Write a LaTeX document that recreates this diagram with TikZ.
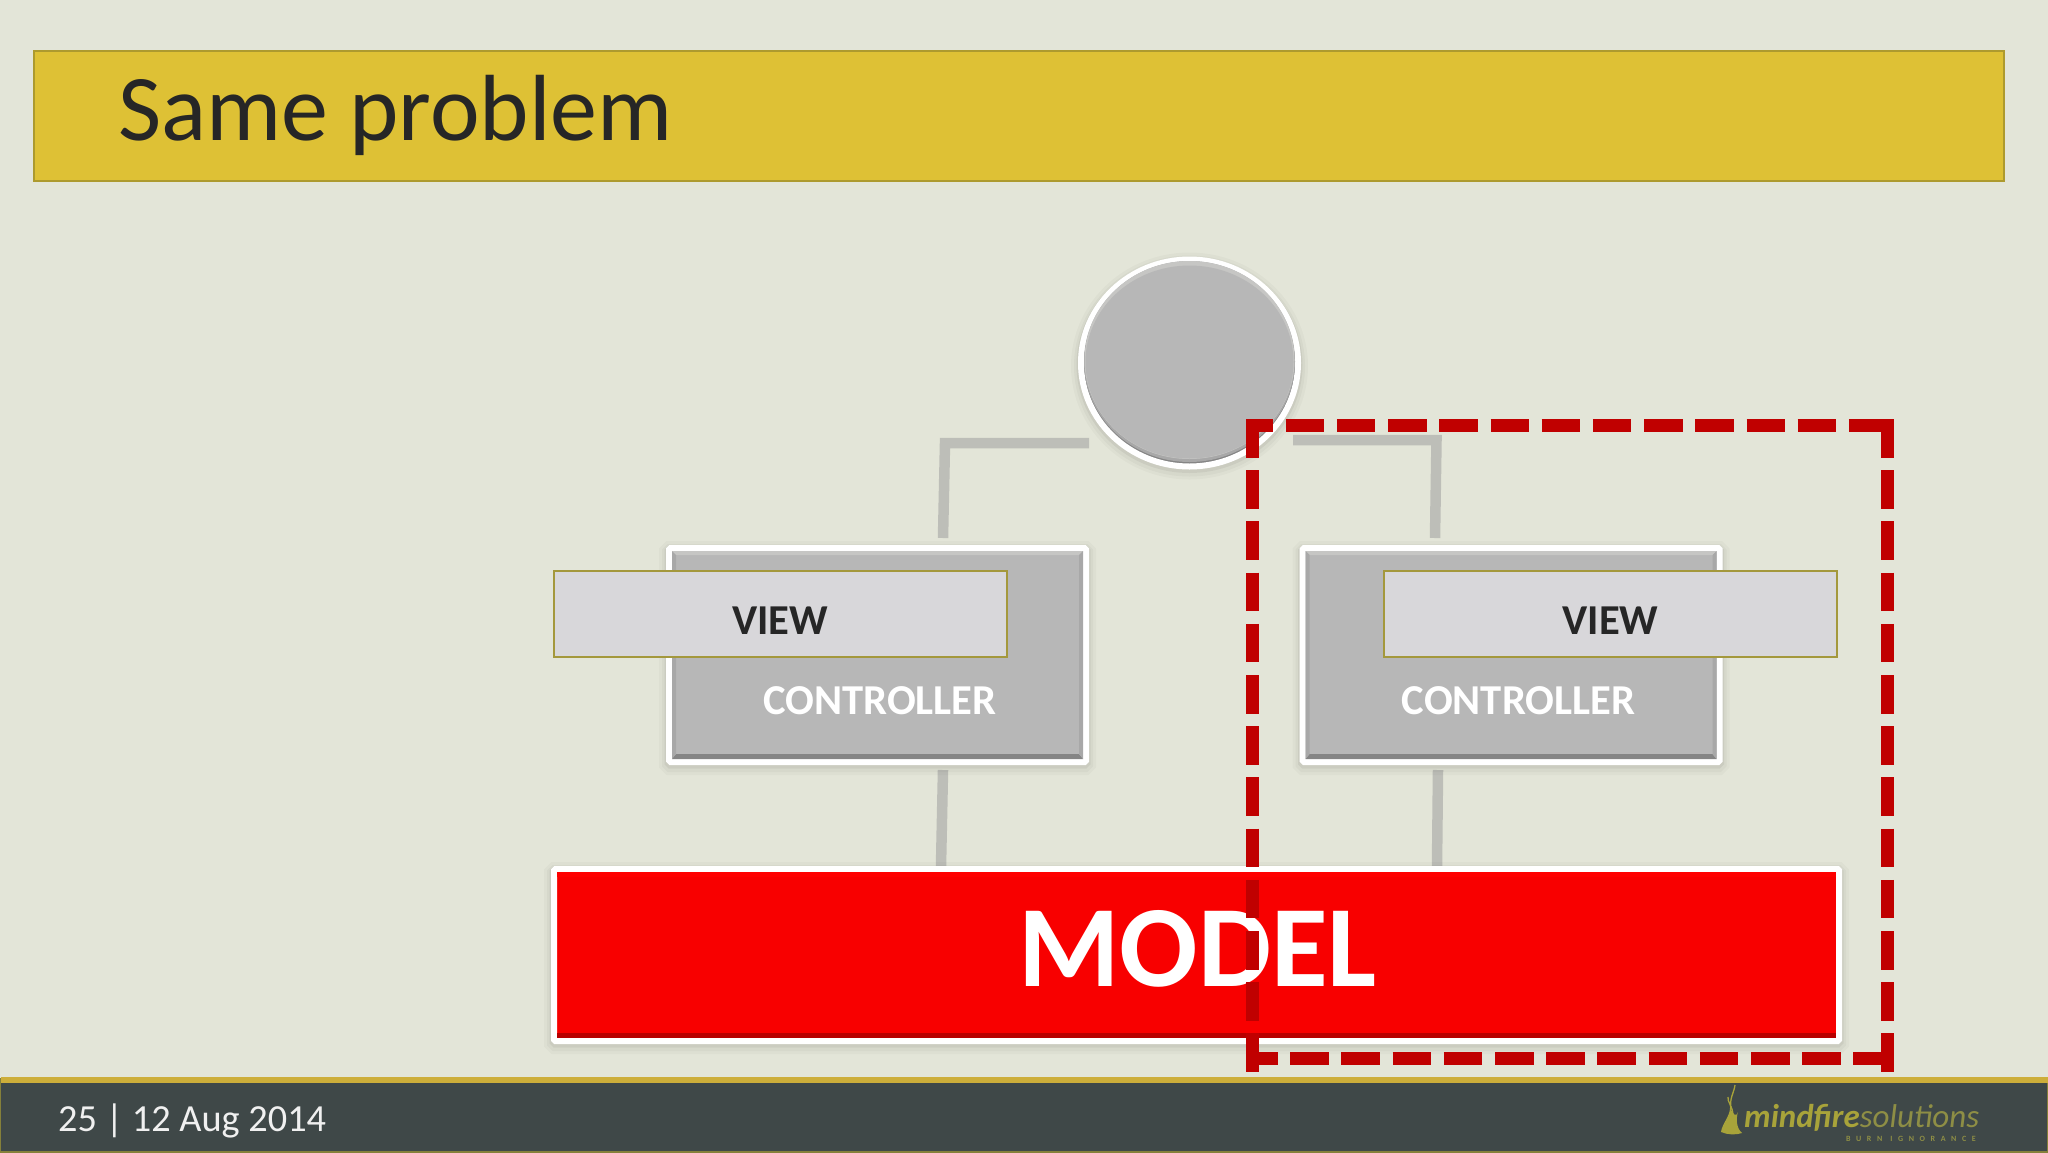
\documentclass[tikz,border=0pt]{standalone}
\usepackage{fontspec}
\setmainfont{Carlito}
\newfontfamily\logotagfont[LetterSpace=70,BoldFont={Carlito Bold}]{Carlito}
\usetikzlibrary{calc,shapes.geometric}
\definecolor{pagebg}{HTML}{E3E5D8}
\definecolor{titlegold}{HTML}{DEC135}
\definecolor{titleedge}{HTML}{AD9A2E}
\definecolor{inktext}{HTML}{262626}
\definecolor{boxgrey}{HTML}{B7B7B7}
\definecolor{boxlight}{HTML}{C6C6C4}
\definecolor{boxdark}{HTML}{858585}
\definecolor{viewfill}{HTML}{D8D7DA}
\definecolor{viewedge}{HTML}{A4983C}
\definecolor{connector}{HTML}{BDBEB8}
\definecolor{modelred}{HTML}{F80000}
\definecolor{modeltop}{HTML}{FF0000}
\definecolor{modeldark}{HTML}{B80000}
\definecolor{dashred}{HTML}{C00000}
\definecolor{footerbg}{HTML}{3F4848}
\definecolor{footergold}{HTML}{CDAE3A}
\definecolor{footeredge}{HTML}{85803A}
\definecolor{logoolive}{HTML}{A8A33A}
\definecolor{logolight}{HTML}{8E8E45}
\tikzset{
  x=1pt,y=-1pt,
  softrect/.style={
    preaction={draw=black,draw opacity=.025,line width=20pt,transform canvas={yshift=-3pt}},
    preaction={draw=black,draw opacity=.03,line width=14pt,transform canvas={yshift=-3pt}},
    preaction={draw=black,draw opacity=.05,line width=9pt,transform canvas={yshift=-2pt}}},
  framedbox/.style={rectangle,draw=white,line width=6pt,fill=#1,inner sep=0pt,outer sep=0pt,rounded corners=1.5pt,softrect},
  ctrlbox/.style={framedbox=boxgrey,minimum width=417pt,minimum height=214pt},
  viewbox/.style={rectangle,draw=viewedge,line width=1.6pt,fill=viewfill,inner sep=0pt,outer sep=0pt,minimum width=453pt,minimum height=86pt},
  viewtext/.style={anchor=base,inner sep=0pt,text=inktext,font=\fontsize{42.6}{50}\selectfont\bfseries},
  ctrltext/.style={anchor=base,inner sep=0pt,text=white,font=\fontsize{42.6}{50}\selectfont\bfseries},
  link/.style={draw=connector,line width=10.5pt},
  dashside/.style={draw=dashred,line width=13pt},
  flamewisp/.style={draw=logoolive,line width=1.3pt}
}
\begin{document}
\begin{tikzpicture}
\useasboundingbox (0,0) rectangle (2048,1152);
\fill[pagebg] (0,0) rectangle (2048,1152);

% title bar
\node[rectangle,draw=titleedge,line width=1.8pt,fill=titlegold,inner sep=0pt,outer sep=0pt,minimum width=1970pt,minimum height=130pt] (titlebar) at (1019,116) {};
\node[anchor=base west,inner sep=0pt,text=inktext,font=\fontsize{94}{100}\selectfont] (titletext) at (118,140) {Same problem};

% connectors
\coordinate (lTop) at (1089,443);
\coordinate (lBend) at (945,443);
\coordinate (lDown) at (943,538);
\coordinate (rTop) at (1293,440);
\coordinate (rBend) at (1436.5,440);
\coordinate (rDown) at (1435,538);
\coordinate (lLowA) at (943,770);
\coordinate (lLowB) at (941,866);
\coordinate (rLowA) at (1438,770);
\coordinate (rLowB) at (1437,866);
\draw[link,line join=miter] (lTop) -- (lBend) -- (lDown);
\draw[link,line join=miter] (rTop) -- (rBend) -- (rDown);
\draw[link] (lLowA) -- (lLowB);
\draw[link] (rLowA) -- (rLowB);

% top circle
\node[ellipse,draw=white,line width=6pt,fill=boxdark,inner sep=0pt,outer sep=0pt,minimum width=217pt,minimum height=207pt,softrect] (user) at (1189.5,363) {};
\fill[boxgrey!70!boxdark] ($(user.center)+(0,-1.5)$) ellipse [x radius=105.5,y radius=100.5];
\fill[boxlight] ($(user.center)+(0,-3)$) ellipse [x radius=105,y radius=99];
\fill[boxgrey] ($(user.center)+(0,-1)$) ellipse [x radius=104,y radius=96.5];

% controllers
\node[ctrlbox] (ctrlL) at (877.5,655) {};
\node[ctrlbox] (ctrlR) at (1511,655) {};
\foreach \b in {ctrlL,ctrlR}{
  \fill[boxlight] ($(\b.north west)+(3,3)$) -- ($(\b.north east)+(-3,3)$) -- ($(\b.north east)+(-7,7)$) -- ($(\b.north west)+(7,7)$) -- cycle;
  \fill[boxdark] ($(\b.south west)+(3,-3)$) -- ($(\b.south east)+(-3,-3)$) -- ($(\b.south east)+(-7,-8)$) -- ($(\b.south west)+(7,-8)$) -- cycle;
  \fill[boxgrey!92!black] ($(\b.north west)+(3,3)$) -- ($(\b.north west)+(7,7)$) -- ($(\b.south west)+(7,-8)$) -- ($(\b.south west)+(3,-3)$) -- cycle;
  \fill[boxgrey!92!black] ($(\b.north east)+(-3,3)$) -- ($(\b.north east)+(-7,7)$) -- ($(\b.south east)+(-7,-8)$) -- ($(\b.south east)+(-3,-3)$) -- cycle;
}
\node[ctrltext] (ctrlLtext) at (880,714) {CONTROLLER};
\node[ctrltext] (ctrlRtext) at (1518.5,714) {CONTROLLER};

% views
\node[viewbox] (viewL) at (780.5,614) {};
\node[viewbox] (viewR) at (1610.5,614) {};
\node[viewtext] (viewLtext) at (780,634.5) {VIEW};
\node[viewtext] (viewRtext) at (1610.5,634.5) {VIEW};

% model
\node[framedbox=modelred,minimum width=1285pt,minimum height=172pt] (model) at (1196.5,955) {};
\fill[modeltop] ($(model.north west)+(3,3)$) rectangle ($(model.north east)+(-3,8)$);
\fill[modeldark] ($(model.south west)+(3,-3)$) -- ($(model.south east)+(-3,-3)$) -- ($(model.south east)+(-3,-8)$) -- ($(model.south west)+(3,-8)$) -- cycle;
\node[anchor=base,inner sep=0pt,text=white,font=\fontsize{116}{124}\selectfont\bfseries] (modeltext) at (1197.5,986.5) {MODEL};

% footer
\node[rectangle,draw=footeredge,line width=1.5pt,fill=footerbg,inner sep=0pt,outer sep=0pt,minimum width=2047pt,minimum height=73pt] (footer) at (1024,1115.5) {};
\fill[footergold] ($(footer.north west)+(0,-2)$) rectangle ($(footer.north east)+(0,4)$);
\node[anchor=base west,inner sep=0pt,text=white!94!black,font=\fontsize{38.3}{42}\selectfont] (footertext) at (58,1131) {25 | 12 Aug 2014};

% logo
\fill[logoolive] (1730,1108) .. controls (1730,1116) and (1722,1124) .. (1721,1132) .. controls (1728,1135) and (1736,1135) .. (1742,1133) .. controls (1736,1128) and (1736,1118) .. (1738,1112) .. controls (1736,1118) and (1733,1114) .. (1730,1108) -- cycle;
\draw[flamewisp] (1735,1085) .. controls (1734,1093) and (1729,1098) .. (1731,1110);
\draw[flamewisp] (1728,1097) .. controls (1727,1102) and (1733,1106) .. (1733,1116);
\node[anchor=base west,inner sep=0pt,font=\fontsize{33}{36}\selectfont\itshape] (logotext) at (1744,1127) {\textcolor{logoolive}{\bfseries mindfire}\textcolor{logolight}{solutions}};
\node[anchor=base east,inner sep=0pt,text=logolight,font=\logotagfont\fontsize{8}{9}\selectfont\bfseries] (logotag) at (1976,1141) {BURN\hspace{8pt}IGNORANCE};

% dashed selection frame
\coordinate (dTL) at (1252.5,419);
\coordinate (dBL) at (1252.5,1072);
\coordinate (dTR) at (1887.5,419);
\coordinate (dBR) at (1887.5,1072);
\coordinate (dTop) at (1246,425.5);
\coordinate (dTopEnd) at (1894,425.5);
\coordinate (dBot) at (1246,1058.5);
\coordinate (dBotEnd) at (1894,1058.5);
\draw[dashside,dash pattern=on 38.5pt off 12.7pt] (dTL) -- (dBL);
\draw[dashside,dash pattern=on 38.5pt off 12.7pt] (dTR) -- (dBR);
\draw[dashside,dash pattern=on 38.5pt off 12.7pt,dash phase=11.5pt] (dTop) -- (dTopEnd);
\draw[dashside,dash pattern=on 38.5pt off 12.7pt,dash phase=7pt] (dBot) -- (dBotEnd);
\end{tikzpicture}
\end{document}
